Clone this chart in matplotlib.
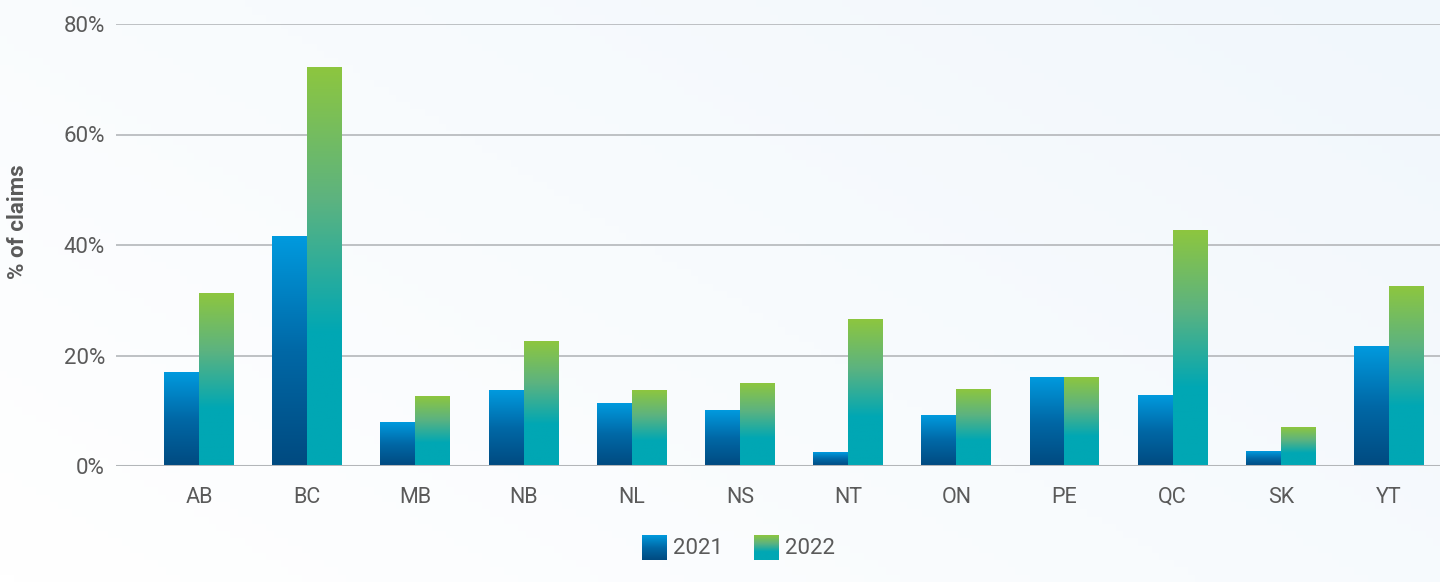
import matplotlib
matplotlib.use('Agg')
import matplotlib.pyplot as plt
import numpy as np
from matplotlib.colors import LinearSegmentedColormap

# data
provinces = ['AB', 'BC', 'MB', 'NB', 'NL', 'NS', 'NT', 'ON', 'PE', 'QC', 'SK', 'YT']
y2021 = [17.0, 41.6, 7.8, 13.6, 11.4, 10.0, 2.5, 9.2, 16.1, 12.7, 2.7, 21.7]
y2022 = [31.3, 72.2, 12.5, 22.6, 13.6, 15.0, 26.6, 13.9, 16.1, 42.7, 6.9, 32.4]
yticks = [0, 20, 40, 60, 80]

cm21 = LinearSegmentedColormap.from_list('c21', ['#004a80', '#0068a6', '#009ade'])
cm22 = LinearSegmentedColormap.from_list('c22', ['#00a7b4', '#00a7b4', '#5cb380', '#8dc63f'])
grad = np.linspace(0, 1, 256).reshape(-1, 1)

plt.rcParams['font.family'] = ['Roboto', 'DejaVu Sans']
txt = '#5a5a5a'

fig = plt.figure(figsize=(14.4, 5.82), dpi=100)

# soft background gradient
bg = fig.add_axes([0, 0, 1, 1], zorder=-10)
xx, yy = np.meshgrid(np.linspace(0, 1, 200), np.linspace(0, 1, 80))
bgcm = LinearSegmentedColormap.from_list('bg', ['#ffffff', '#f1f7fc'])
bg.imshow((xx * 0.6 + (1 - yy) * 0.4), cmap=bgcm, aspect='auto', extent=[0, 1, 0, 1], origin='upper')
bg.axis('off')

ax = fig.add_axes([116 / 1440, 1 - 466 / 582, 1 - 116 / 1440, 442 / 582])
ax.patch.set_alpha(0)

w = 0.323
x = np.arange(len(provinces))
for i in range(len(provinces)):
    ax.imshow(grad, cmap=cm21, origin='lower', aspect='auto',
              extent=[x[i] - w, x[i], 0, y2021[i]], zorder=3)
    ax.imshow(grad, cmap=cm22, origin='lower', aspect='auto',
              extent=[x[i], x[i] + w, 0, y2022[i]], zorder=3)

ax.set_xlim(-0.767, 11.471)
ax.set_ylim(0, 80)
ax.set_yticks(yticks)
ax.set_yticklabels([f'{t}%' for t in yticks], fontsize=16, color=txt)
ax.set_xticks(x)
ax.set_xticklabels(provinces, fontsize=15.5, color=txt)
ax.tick_params(axis='both', length=0)
ax.tick_params(axis='y', pad=8)
ax.tick_params(axis='x', pad=15)
ax.grid(axis='y', color='#b9bcbf', linewidth=1.3, zorder=1)
ax.axhline(0, color='#b3b6b9', linewidth=2.2, zorder=4)
for s in ax.spines.values():
    s.set_visible(False)
ax.set_ylabel('% of claims', fontsize=16, fontweight='bold', color=txt)
ax.yaxis.set_label_coords(-0.066, 0.552)

# legend built by hand with gradient swatches
for x0, cmap, label in [(642, cm21, '2021'), (754, cm22, '2022')]:
    sw = fig.add_axes([x0 / 1440, 1 - 560 / 582, 25 / 1440, 25 / 582])
    sw.imshow(grad, cmap=cmap, origin='lower', aspect='auto')
    sw.axis('off')
    fig.text((x0 + 31) / 1440, 1 - 548 / 582, label, fontsize=16, color=txt, va='center')

fig.savefig('out.png', dpi=100)
